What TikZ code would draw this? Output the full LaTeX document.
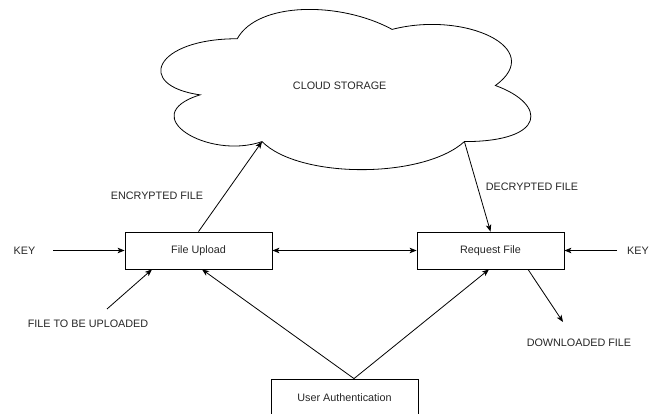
\documentclass[tikz,border=0pt]{standalone}
\usepackage{fontspec}
\setmainfont{Liberation Sans}
\usetikzlibrary{arrows.meta,calc}
\begin{document}
\begin{tikzpicture}[x=1pt,y=-1pt,
  every node/.style={font=\fontsize{10.8}{13}\selectfont, text=black!85},
  box/.style={draw, line width=0.8pt, minimum width=147pt, minimum height=37pt, inner sep=0pt},
  lbl/.style={inner sep=0pt},
  arr/.style={line width=0.8pt, -{Stealth[length=7pt,width=5.5pt,inset=1.8pt]}},
  darr/.style={line width=0.8pt, {Stealth[length=7pt,width=5.5pt,inset=1.8pt]}-{Stealth[length=7pt,width=5.5pt,inset=1.8pt]}},
  cloudline/.style={line width=0.8pt}]
\useasboundingbox (0,0) rectangle (656,414);
% cloud
\draw[cloudline] (237.25,38.75) .. controls (154.65,38.75) and (134,85.5) .. (200.08,94.85)
  .. controls (134,115.42) and (208.34,160.3) .. (262.03,141.6)
  .. controls (299.2,179) and (423.1,179) .. (464.4,141.6)
  .. controls (547,141.6) and (547,104.2) .. (495.375,85.5)
  .. controls (547,48.1) and (464.4,10.7) .. (392.125,29.4)
  .. controls (340.5,1.35) and (257.9,1.35) .. (237.25,38.75) -- cycle;
\node[lbl] (cloud) at (339.7,86) {CLOUD STORAGE};
\coordinate (cin) at (262.03,141.6);
\coordinate (cout) at (464.4,141.6);
% boxes
\node[box] (fu) at (198.5,250.5) {File Upload};
\node[box] (rf) at (490.5,250.5) {Request File};
\node[box] (ua) at (344.5,397.5) {User Authentication};
% labels
\node[lbl] (encf) at (157,196) {ENCRYPTED FILE};
\node[lbl] (decf) at (532,187) {DECRYPTED FILE};
\node[lbl] (keyl) at (24.5,251) {KEY};
\node[lbl] (keyr) at (638,251) {KEY};
\node[lbl] (upl) at (88,324) {FILE TO BE UPLOADED};
\node[lbl] (dwn) at (579,343) {DOWNLOADED FILE};
% free ends
\coordinate (keylend) at (53,250.5);
\coordinate (keyrend) at (617,250.5);
\coordinate (uplend) at (107,309);
\coordinate (dwnend) at (563,322);
\coordinate (uatop) at ($(ua.north)+(9.5,0)$);
% connectors
\draw[arr] (keylend) -- (fu.west);
\draw[arr] (keyrend) -- (rf.east);
\draw[darr] (fu.east) -- (rf.west);
\draw[arr] (uplend) -- ($(fu.south)+(-46.5,0)$);
\draw[arr] (uatop) -- ($(fu.south)+(3.5,0)$);
\draw[arr] (uatop) -- ($(rf.south)+(-1.5,0)$);
\draw[arr] (fu.north) -- (cin);
\draw[arr] (cout) -- (rf.north);
\draw[arr] ($(rf.south)+(37.5,0)$) -- (dwnend);
\end{tikzpicture}
\end{document}
